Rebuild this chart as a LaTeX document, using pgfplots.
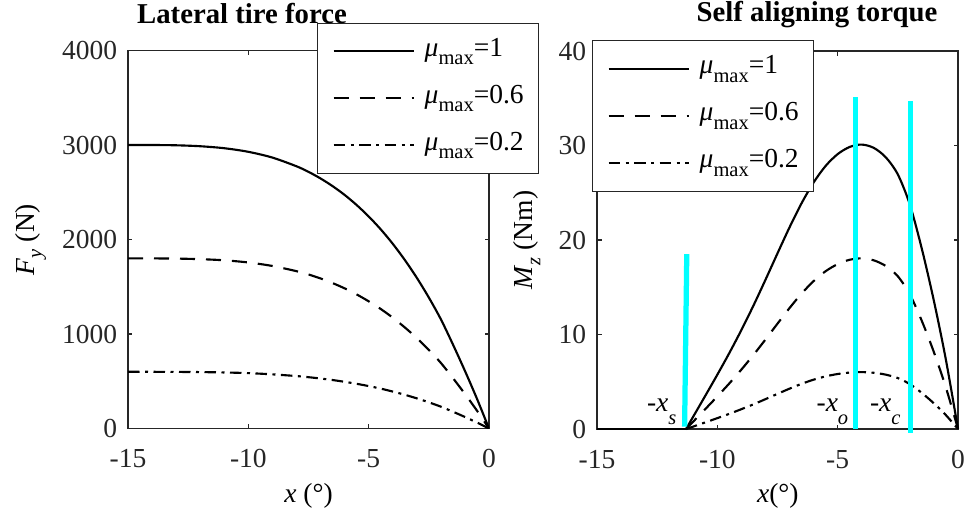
\documentclass[border=0pt]{standalone}
\usepackage{fontspec}
\setmainfont{Liberation Serif}
\usepackage{pgfplots}
\pgfplotsset{compat=1.18}
\newcommand{\fs}{\fontsize{11}{13}\selectfont}
\newcommand{\ft}{\fontsize{11.5}{13.5}\selectfont}
\newcommand{\sm}{\fontsize{8.2}{9}\selectfont}
\newcommand{\mumax}{\textit{μ}\raisebox{-3.3pt}{\sm max}}
\begin{document}
\begin{tikzpicture}
\useasboundingbox (0,0) rectangle (386pt,206.8pt);
\pgfplotsset{
  myax/.style={
    scale only axis, width=144.4pt, height=151.2pt,
    xmin=-15, xmax=0,
    xtick={-15,-10,-5,0}, xticklabels={-15,-10,-5,0},
    tick align=inside, tick pos=both, xticklabel pos=lower, yticklabel pos=left,
    major tick length=1.8pt,
    axis line style={black!85, line width=0.5pt},
    tick style={black!85, line width=0.5pt},
    font=\fs,
    ticklabel style={font=\fs, text=black!85},
    xticklabel style={yshift=-4.9pt},
    yticklabel style={xshift=-0.8pt},
    /pgf/number format/assume math mode=true,
    legend cell align=left,
    legend image code/.code={\draw[##1] (0pt,0pt) -- (32pt,0pt); \path (36pt,0pt);},
    legend style={draw=black!85, line width=0.5pt, fill=white, inner xsep=6pt, inner ysep=5.3pt,
      row sep=6.8pt, nodes={inner sep=0pt, text height=8pt, text depth=4pt}, font=\fs, anchor=north west},
  },
  s1/.style={black, line width=0.85pt, solid},
  s2/.style={black, line width=0.85pt, dash pattern=on 6pt off 4.4pt},
  s3/.style={black, line width=0.85pt, dash pattern=on 4.6pt off 2.2pt on 1.2pt off 2.2pt},
  cy/.style={color={rgb,1:red,0;green,1;blue,1}, line width=2.1pt, forget plot},
}
\begin{axis}[myax, at={(51.2pt,35.4pt)}, anchor=south west,
  ymin=0, ymax=4000, ytick={0,1000,2000,3000,4000}, yticklabels={0,1000,2000,3000,4000},
  xlabel={\textit{x} (°)},
  ylabel={\textit{F}\raisebox{-3pt}{\sm\textit{y}} (N)},
  xlabel style={at={(axis description cs:0.5,-0.195)}, anchor=base, inner sep=0pt},
  ylabel style={at={(axis description cs:-0.26,0.5)}, anchor=base, inner sep=0pt},
  legend style={at={(0.5235,1.074)}},
]
\addplot[s1, smooth] coordinates {(-15,3000)(-14,3000)(-13,2997)(-12,2987)(-11,2966)(-10,2928)(-9,2867)(-8,2775)(-7.5,2716)(-7,2646)(-6.5,2565)(-6,2472)(-5.5,2365)(-5,2244)(-4.5,2108)(-4,1955)(-3.5,1784)(-3,1595)(-2.5,1386)(-2,1156)(-1.5,890)(-1,610)(-0.5,315)(0,0)};
\addlegendentry{\mumax=1}
\addplot[s2, smooth] coordinates {(-15,1800)(-14,1800)(-13,1798)(-12,1792)(-11,1780)(-10,1757)(-9,1720)(-8,1665)(-7.5,1630)(-7,1588)(-6.5,1539)(-6,1483)(-5.5,1419)(-5,1346)(-4.5,1265)(-4,1173)(-3.5,1070)(-3,957)(-2.5,832)(-2,694)(-1.5,534)(-1,366)(-0.5,189)(0,0)};
\addlegendentry{\mumax=0.6}
\addplot[s3, smooth] coordinates {(-15,600)(-14,600)(-13,599)(-12,597)(-11,593)(-10,586)(-9,573)(-8,555)(-7.5,543)(-7,529)(-6.5,513)(-6,494)(-5.5,473)(-5,449)(-4.5,422)(-4,391)(-3.5,357)(-3,319)(-2.5,277)(-2,231)(-1.5,178)(-1,122)(-0.5,63)(0,0)};
\addlegendentry{\mumax=0.2}
\end{axis}
\begin{axis}[myax, at={(238.8pt,35.2pt)}, anchor=south west, clip=false,
  ymin=0, ymax=40, ytick={0,10,20,30,40}, yticklabels={0,10,20,30,40},
  xlabel={\textit{x}(°)},
  ylabel={\textit{M}\raisebox{-3.3pt}{\sm\textit{z}} (Nm)},
  xlabel style={at={(axis description cs:0.501,-0.195)}, anchor=base, inner sep=0pt},
  ylabel style={at={(axis description cs:-0.18,0.5)}, anchor=base, inner sep=0pt},
  legend style={at={(-0.0139,1.029)}},
]
\addplot[s1, forget plot] coordinates {(-15,0)(-11.3,0)};
\addplot[s2, forget plot] coordinates {(-15,0)(-11.3,0)};
\addplot[s3, forget plot] coordinates {(-15,0)(-11.3,0)};
\addplot[s1, smooth] coordinates {(-11.3,0)(-11,1.32)(-10.5,3.52)(-10,5.75)(-9.5,8.05)(-9,10.48)(-8.5,13.06)(-8,15.79)(-7.5,18.59)(-7,21.34)(-6.5,23.89)(-6,26.09)(-5.5,27.84)(-5,29.09)(-4.5,29.85)(-4,30.1)(-3.5,29.75)(-3,28.75)(-2.5,26.94)(-2,23.74)(-1.5,19.04)(-1,13.54)(-0.5,7.29)(0,0)};
\addlegendentry{\mumax=1}
\addplot[s2, smooth] coordinates {(-11.3,0)(-11,0.79)(-10.5,2.11)(-10,3.45)(-9.5,4.83)(-9,6.29)(-8.5,7.84)(-8,9.47)(-7.5,11.15)(-7,12.80)(-6.5,14.33)(-6,15.65)(-5.5,16.70)(-5,17.45)(-4.5,17.91)(-4,18.06)(-3.5,17.85)(-3,17.25)(-2.5,16.16)(-2,14.24)(-1.5,11.42)(-1,8.12)(-0.5,4.37)(0,0)};
\addlegendentry{\mumax=0.6}
\addplot[s3, smooth] coordinates {(-11.3,0)(-11,0.26)(-10.5,0.70)(-10,1.15)(-9.5,1.61)(-9,2.10)(-8.5,2.61)(-8,3.16)(-7.5,3.72)(-7,4.27)(-6.5,4.78)(-6,5.22)(-5.5,5.57)(-5,5.82)(-4.5,5.97)(-4,6.02)(-3.5,5.95)(-3,5.75)(-2.5,5.39)(-2,4.75)(-1.5,3.81)(-1,2.71)(-0.5,1.46)(0,0)};
\addlegendentry{\mumax=0.2}
\addplot[cy] coordinates {(-11.36,0.25)(-11.27,18.5)};
\addplot[cy] coordinates {(-4.25,0)(-4.25,35.1)};
\addplot[cy] coordinates {(-1.98,-0.39)(-1.98,34.7)};
\node[anchor=base east, inner sep=0pt, font=\fs] at (axis cs:-11.68,1.83) {-\textit{x}\raisebox{-5.3pt}{\sm\textit{s}}};
\node[anchor=base east, inner sep=0pt, font=\fs] at (axis cs:-4.54,1.83) {-\textit{x}\raisebox{-5.3pt}{\sm\textit{o}}};
\node[anchor=base east, inner sep=0pt, font=\fs] at (axis cs:-2.37,1.83) {-\textit{x}\raisebox{-5.3pt}{\sm\textit{c}}};
\end{axis}
\node[font=\ft\bfseries, anchor=base] at (96.8pt,197.6pt) {Lateral tire force};
\node[font=\ft\bfseries, anchor=base] at (326.8pt,198.4pt) {Self aligning torque};
\end{tikzpicture}
\end{document}
